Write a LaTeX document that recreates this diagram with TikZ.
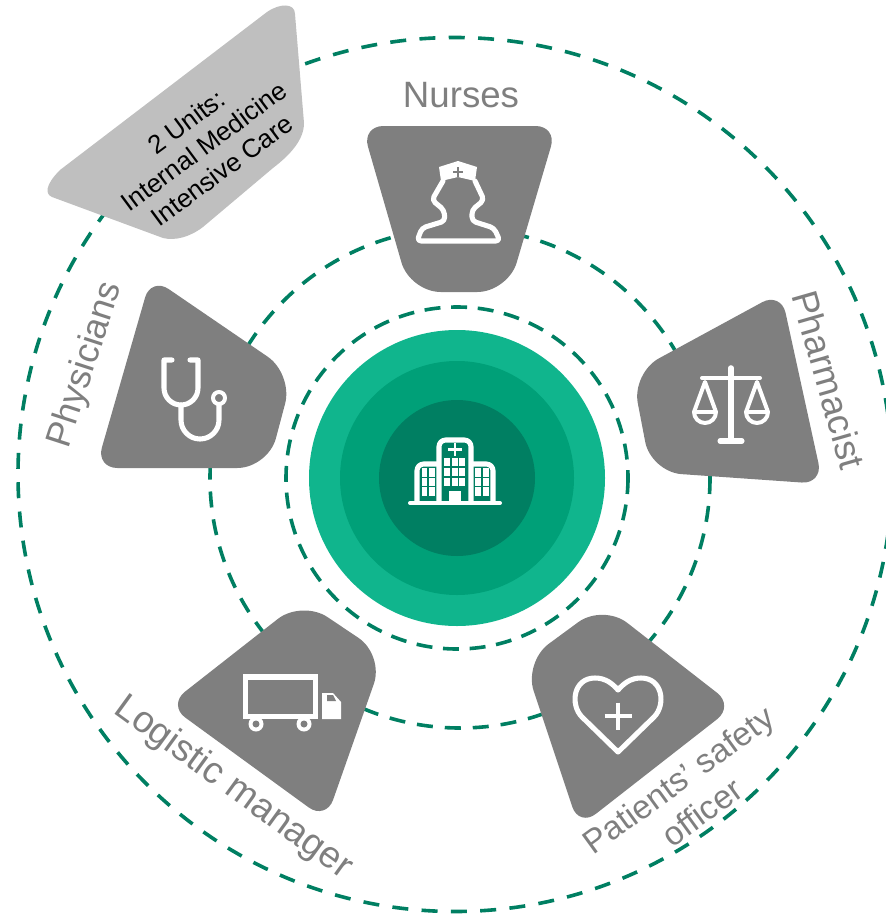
\documentclass[tikz,border=0pt]{standalone}
\usepackage{fontspec}
\setmainfont{Liberation Sans}
\usetikzlibrary{calc}
\definecolor{ringgreen}{HTML}{007F62}
\definecolor{discouter}{HTML}{10B58D}
\definecolor{discmiddle}{HTML}{00A078}
\definecolor{roleshade}{HTML}{7F7F7F}
\definecolor{unitshade}{HTML}{BFBFBF}
\tikzstyle{ring}=[ringgreen, line width=2.7pt, dash pattern=on 12pt off 9pt]
\tikzstyle{rolelabel}=[roleshade, font=\fontsize{27.5}{33}\selectfont, align=center, inner sep=0pt]
\tikzstyle{icon}=[white, line width=3.8pt, line join=round, line cap=round]
\newcommand{\rolebox}[4]{
    \fill[roleshade] ($(#1)!0.5!(#2)$) [rounded corners=16pt] -- (#2) [rounded corners=23pt] -- (#3) -- (#4) [rounded corners=16pt] -- (#1) -- ($(#1)!0.5!(#2)$);
}

\begin{document}
\begin{tikzpicture}[x=0.75pt, y=-0.75pt]
\useasboundingbox (0,0) rectangle (885,917);
% Rings
    \draw[ring, dash pattern=on 12pt off 8pt] (457,478) circle(171);
    \draw[ring] (460,478) circle(250);
    \draw[ring, dash pattern=on 12pt off 10pt] (455,474.5) circle(437);
% Discs
    \fill[discouter] (457,478) circle(148);
    \fill[discmiddle] (457,478) circle(117);
    \fill[ringgreen] (457,478) circle(78);
% Hospital
    \draw[icon, line width=3pt] (410,503) -- (500,503);
    \draw[icon, line cap=butt, rounded corners=5pt] (439,502) -- (439,440) -- (471,440) -- (471,502);
    \draw[icon, line cap=butt, rounded corners=5pt] (417,502) -- (417,464) -- (437,464);
    \draw[icon, line cap=butt, rounded corners=5pt] (493,502) -- (493,464) -- (473,464);
    \foreach \wx in {443.5,451.7,459.3}
        \foreach \wy in {457.7,467.7,477.7}
            \fill[white] (\wx,\wy) rectangle ++(6,8);
    \foreach \wx in {421.7,429.3,475,483.3}
        \foreach \wy in {468.3,477.7,487.3}
            \fill[white] (\wx,\wy) rectangle ++(5.7,8.2);
    \fill[white] (449.3,491) rectangle (460.7,502);
    \draw[white, line width=1.9pt] (448,449.3) -- (462,449.3);
    \draw[white, line width=1.9pt] (455,442.5) -- (455,456);
% Units card
    \fill[unitshade] (60,170) -- (267,12) .. controls (280,3) and (295,3) .. (295,14) -- (304,123) .. controls (304,140) and (290,155) .. (273,168) -- (203,227) .. controls (190,237) and (175,241) .. (163,238) -- (52,197) .. controls (45,194) and (45,185) .. (60,170) -- cycle;
    \node[black, font=\fontsize{19.5}{22.5}\selectfont, align=center, inner sep=0pt, rotate=36.5] (units) at (204,146) {2 Units:\\Internal Medicine\\Intensive Care};
% Roles
    \coordinate (na) at (362,126); \coordinate (nb) at (557,126); \coordinate (nc) at (508,292); \coordinate (nd) at (410,292);
    \coordinate (pa) at (781,292); \coordinate (pb) at (823,484); \coordinate (pc) at (651,472); \coordinate (pd) at (632,373);
    \coordinate (sa) at (734,706); \coordinate (sb) at (579,827); \coordinate (sc) at (524,662); \coordinate (sd) at (603,604);
    \coordinate (la) at (326,820); \coordinate (lb) at (168,705); \coordinate (lc) at (302,600); \coordinate (ld) at (384,655);
    \coordinate (da) at (96,468); \coordinate (db) at (151,277); \coordinate (dc) at (293,374); \coordinate (dd) at (268,468);
    \rolebox{na}{nb}{nc}{nd}
    \rolebox{pa}{pb}{pc}{pd}
    \rolebox{sa}{sb}{sc}{sd}
    \rolebox{la}{lb}{lc}{ld}
    \rolebox{da}{db}{dc}{dd}
% Labels
    \node[rolelabel] (nurses) at (461,95) {Nurses};
    \node[rolelabel, rotate=-74] (pharmacist) at (829,380) {Pharmacist};
    \node[rolelabel, rotate=36, font=\fontsize{25}{30}\selectfont] (safety) at (690,796) {Patients’ safety\\officer};
    \node[rolelabel, rotate=-36, font=\fontsize{28}{33}\selectfont] (logistic) at (233,788) {Logistic manager};
    \node[rolelabel, rotate=72, font=\fontsize{27}{33}\selectfont] (physicians) at (86,365) {Physicians};
% Nurse
    \fill[white] (439,167) -- (458,161) -- (477,167) -- (475,181) -- (458,177) -- (441,181) -- cycle;
    \draw[roleshade, line width=2.2pt] (453,172) -- (463,172);
    \draw[roleshade, line width=2.2pt] (458,167) -- (458,177);
    \draw[icon, rounded corners=3pt] (443,181) -- (432,200) -- (444,210) -- (445,221) -- (422,228) -- (417,241) -- (500,241) -- (494,228) -- (472,221) -- (472,210) -- (484,200) -- (475,181);
% Scales
    \draw[icon, line width=4.2pt] (731,368) -- (731,441);
    \draw[icon] (720,441) -- (742,441);
    \draw[icon, line width=3pt] (702,378) -- (760,378);
    \foreach \px in {705,757} {
        \draw[icon, line width=3pt] (\px,382) -- (\px-11,412) arc[start angle=180, end angle=0, radius=11] -- cycle;
        \draw[icon, line width=2.4pt, line cap=butt] (\px-10,412) -- (\px+10,412);
    }
% Stethoscope
    \draw[icon] (172,360) -- (164,360) -- (164,388) arc[start angle=180, end angle=0, radius=17] -- (198,360) -- (190,360);
    \draw[icon] (181,405) -- (181,420) arc[start angle=180, end angle=0, radius=19] -- (219,405);
    \draw[icon, line width=3pt] (219,398) circle(6);
% Truck
    \draw[icon, line cap=butt, line join=miter] (245.5,677) rectangle (315.5,716.5);
    \fill[white] (322,693) -- (333,693) -- (341,702) -- (341,719) -- (322,719) -- cycle;
    \fill[roleshade] (327,695) -- (333,695) -- (336,701) -- (327,701) -- cycle;
    \foreach \tx in {256,304} {
        \fill[white] (\tx,724) circle(7.5);
        \fill[roleshade] (\tx,724) circle(3.5);
    }
% Heart
    \draw[icon] (618,752) -- (582,717) .. controls (570,705) and (573,678) .. (595,678) .. controls (605,678) and (612,683) .. (618,690) .. controls (624,683) and (631,678) .. (641,678) .. controls (663,678) and (666,705) .. (654,717) -- cycle;
    \draw[icon, line width=2.3pt, line cap=butt] (604.5,716) -- (631.5,716);
    \draw[icon, line width=2.3pt, line cap=butt] (618,702.5) -- (618,729.5);
\end{tikzpicture}
\end{document}
